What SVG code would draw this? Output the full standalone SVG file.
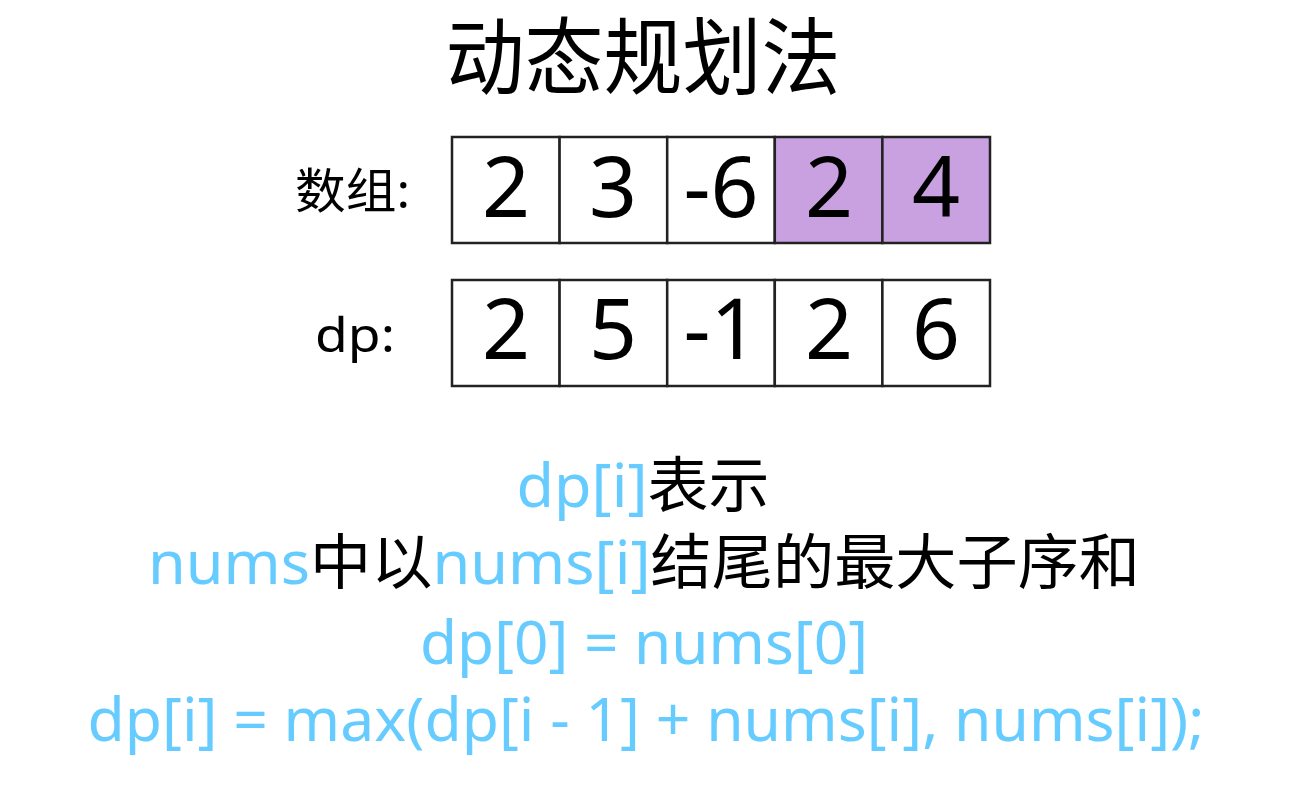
<svg xmlns="http://www.w3.org/2000/svg" width="1292" height="790" viewBox="0 0 1292 790">
<style>
.t{font-family:"Noto Sans","Noto Sans CJK SC",sans-serif;fill:#000}
.c{fill:#fff;stroke:#222;stroke-width:2.5}
.p{fill:#C9A0E0;stroke:#222;stroke-width:2.5}
.n{font-family:"Noto Sans","Noto Sans CJK SC",sans-serif;font-size:84px;text-anchor:middle;fill:#000}
.f{font-family:"Noto Sans","Noto Sans CJK SC",sans-serif;font-size:60px;text-anchor:middle;fill:#000}
.b{fill:#66CCFF}
</style>
<rect width="1292" height="790" fill="#fff"/>
<g id="title"><text class="t" x="643" y="88" font-size="84" text-anchor="middle" textLength="395" lengthAdjust="spacingAndGlyphs">动态规划法</text></g>
<g id="label-array"><text class="t" x="295" y="208" font-size="48" textLength="115" lengthAdjust="spacingAndGlyphs">数组:</text></g>
<g id="label-dp"><text class="t" x="315" y="352" font-size="48" textLength="80" lengthAdjust="spacingAndGlyphs">dp:</text></g>
<g id="array">
<rect class="c" x="452" y="137" width="107.6" height="106"/>
<rect class="c" x="559.6" y="137" width="107.6" height="106"/>
<rect class="c" x="667.2" y="137" width="107.6" height="106"/>
<rect class="p" x="774.8" y="137" width="107.6" height="106"/>
<rect class="p" x="882.4" y="137" width="107.6" height="106"/>
<text class="n" x="506" y="217">2</text>
<text class="n" x="613" y="217">3</text>
<text class="n" x="721" y="217">-6</text>
<text class="n" x="829" y="217">2</text>
<text class="n" x="936" y="217">4</text>
</g>
<g id="dp">
<rect class="c" x="452" y="280" width="107.6" height="106"/>
<rect class="c" x="559.6" y="280" width="107.6" height="106"/>
<rect class="c" x="667.2" y="280" width="107.6" height="106"/>
<rect class="c" x="774.8" y="280" width="107.6" height="106"/>
<rect class="c" x="882.4" y="280" width="107.6" height="106"/>
<text class="n" x="506" y="359">2</text>
<text class="n" x="613" y="359">5</text>
<text class="n" x="721" y="359">-1</text>
<text class="n" x="829" y="359">2</text>
<text class="n" x="936" y="359">6</text>
</g>
<g id="desc">
<text class="f" x="643" y="507" textLength="253" lengthAdjust="spacingAndGlyphs"><tspan class="b">dp[i]</tspan>表示</text>
<text class="f" x="644" y="584" textLength="992" lengthAdjust="spacingAndGlyphs"><tspan class="b">nums</tspan>中以<tspan class="b">nums[i]</tspan>结尾的最大子序和</text>
<text class="f b" x="644" y="664" textLength="448" lengthAdjust="spacingAndGlyphs">dp[0] = nums[0]</text>
<text class="f b" x="646" y="741" textLength="1117" lengthAdjust="spacingAndGlyphs">dp[i] = max(dp[i - 1] + nums[i], nums[i]);</text>
</g>
</svg>
